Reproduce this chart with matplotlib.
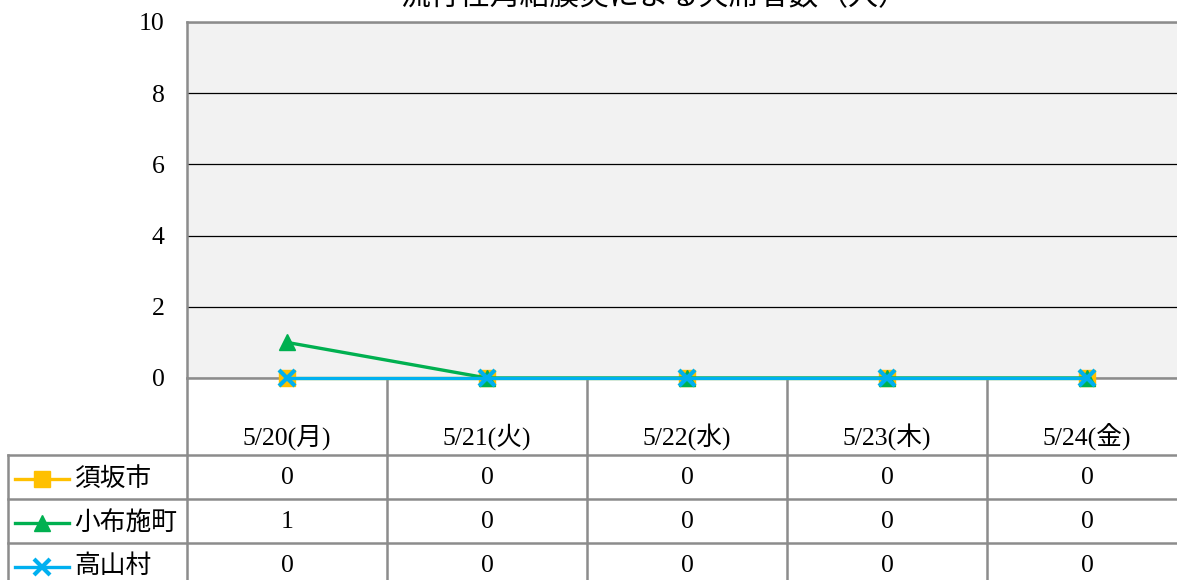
import matplotlib
matplotlib.use("Agg")
import matplotlib.pyplot as plt
from matplotlib.lines import Line2D
from matplotlib.transforms import blended_transform_factory

plt.rcParams['font.family'] = ['Liberation Serif', 'Noto Sans CJK JP']

title = "流行性角結膜炎による欠席者数（人）"
dates = ["5/20(月)", "5/21(火)", "5/22(水)", "5/23(木)", "5/24(金)"]
names = ["須坂市", "小布施町", "高山村"]
suzaka = [0, 0, 0, 0, 0]
obuse = [1, 0, 0, 0, 0]
takayama = [0, 0, 0, 0, 0]
series = [suzaka, obuse, takayama]
colors = ["#FFC000", "#00B050", "#00B0F0"]
markers = ["s", "^", "x"]

W, H = 1177, 580
def fx(px):
    return px / W
def fy(py):
    return 1 - py / H

fs = 18.5
fig = plt.figure(figsize=(W / 100, H / 100), dpi=100)
ax = fig.add_axes([fx(187), fy(378), 1000 / W, 356 / H])
ax.set_facecolor("#f2f2f2")
ax.set_xlim(-0.5, len(dates) - 0.5)
ax.set_ylim(0, 10)
ax.set_yticks(range(0, 11, 2))
ax.set_xticks([])
ax.yaxis.grid(True, color="black", lw=0.9)
ax.set_axisbelow(True)
for s in ax.spines.values():
    s.set_color("#8c8c8c")
    s.set_linewidth(1.8)
ax.tick_params(axis="y", length=0, pad=16, labelsize=fs)

x = list(range(len(dates)))
for vals, c, m in zip(series, colors, markers):
    mew = 3 if m == "x" else 1
    ax.plot(x, vals, color=c, lw=2.4, marker=m, ms=11, mew=mew,
            mec=c, mfc=c, clip_on=False, zorder=3)

# title sits partly above the top edge, as in the source image
fig.text(fx(655), fy(11), title, ha="center", va="bottom", fontsize=21.5)

# data table under the axis
tr = blended_transform_factory(ax.transData, fig.transFigure)
gray = "#8c8c8c"
rows_top = [455, 499, 543]
row_h = 44
for i in range(len(dates) - 1):
    ax.plot([i + 0.5, i + 0.5], [fy(378), 0], color=gray, lw=1.8,
            transform=tr, clip_on=False)
fig.add_artist(Line2D([fx(187), fx(187)], [fy(378), 0], color=gray, lw=1.8))
fig.add_artist(Line2D([fx(8), fx(8)], [fy(455), 0], color=gray, lw=1.8))
for top in rows_top:
    fig.add_artist(Line2D([fx(8), 1], [fy(top), fy(top)], color=gray, lw=1.8))

for i, d in enumerate(dates):
    ax.text(i, fy(437), d, transform=tr, ha="center", va="center", fontsize=fs)

for r, (name, vals, c, m) in enumerate(zip(names, series, colors, markers)):
    yc = fy(rows_top[r] + row_h / 2 + 1.5)
    fig.add_artist(Line2D([fx(15), fx(69)], [yc, yc], color=c, lw=2.4))
    mew = 3 if m == "x" else 1
    fig.add_artist(Line2D([fx(42)], [yc], color=c, marker=m, ms=11, mew=mew,
                          mec=c, mfc=c))
    fig.text(fx(74), yc, name, ha="left", va="center", fontsize=fs)
    for i, v in enumerate(vals):
        ax.text(i, yc, str(v), transform=tr, ha="center", va="center",
                fontsize=fs)

fig.savefig("out.png", dpi=100)
